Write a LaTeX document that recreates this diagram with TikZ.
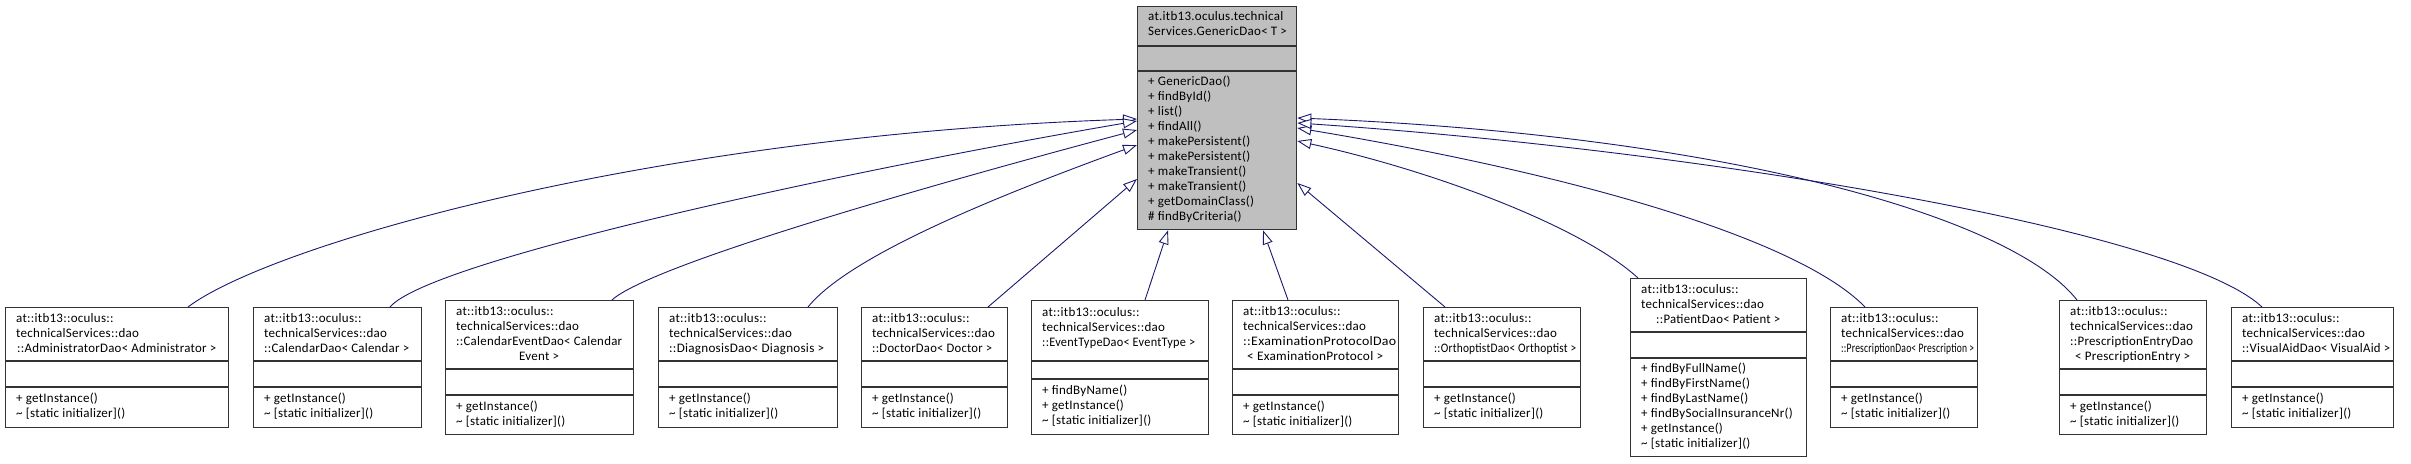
\documentclass[tikz,border=0pt]{standalone}
\usepackage{fontspec}
\setmainfont{Carlito}[LetterSpace=2]
\usetikzlibrary{arrows.meta,calc}
\definecolor{navyc}{RGB}{25,25,112}
\definecolor{gbox}{RGB}{191,191,191}
\newcommand{\tl}[1]{\begin{tabular}{@{}l@{}}#1\end{tabular}}
\newcommand{\cl}[2]{\makebox[#1][c]{#2}}
\newcommand{\sq}[2]{\resizebox{#1}{\height}{#2}}
\begin{document}
\begin{tikzpicture}[x=1pt,y=-1pt,
  cls/.style={draw=black!80, line width=1.3pt, fill=white, inner sep=0pt, anchor=north west},
  gcls/.style={cls, fill=gbox},
  sepline/.style={draw=black!80, line width=1.3pt},
  txt/.style={anchor=west, inner sep=0pt, font=\fontsize{13}{15}\selectfont},
  inh/.style={draw=navyc, line width=0.9pt, -{Triangle[fill=white, length=14pt, width=10pt]}}
]
\useasboundingbox (0,0) rectangle (2411,463);
\fill[white] (0,0) rectangle (2411,463);

% ---------- GenericDao ----------
\node[gcls, minimum width=159pt, minimum height=223pt] (G) at (1137,6) {};
\draw[sepline] (G.west |- 0,46) -- (G.east |- 0,46);
\draw[sepline] (G.west |- 0,71) -- (G.east |- 0,71);
\node[txt] (Gt) at (1148,25) {\tl{at.itb13.oculus.technical\\Services.GenericDao< T >}};
\node[txt] (Gm) at (1148,150) {\tl{+ GenericDao()\\+ findById()\\+ list()\\+ findAll()\\+ makePersistent()\\+ makePersistent()\\+ makeTransient()\\+ makeTransient()\\+ getDomainClass()\\\# findByCriteria()}};

% ---------- AdministratorDao ----------
\node[cls, minimum width=223pt, minimum height=120pt] (A) at (5,307) {};
\draw[sepline] (A.west |- 0,361) -- (A.east |- 0,361);
\draw[sepline] (A.west |- 0,387) -- (A.east |- 0,387);
\node[txt] (At) at (16,334) {\tl{at::itb13::oculus::\\technicalServices::dao\\\cl{201pt}{\sq{199pt}{::AdministratorDao< Administrator >}}}};
\node[txt] (Am) at (16,407) {\tl{+ getInstance()\\\textasciitilde{} [static initializer]()}};

% ---------- CalendarDao ----------
\node[cls, minimum width=168pt, minimum height=120pt] (B) at (253,307) {};
\draw[sepline] (B.west |- 0,361) -- (B.east |- 0,361);
\draw[sepline] (B.west |- 0,387) -- (B.east |- 0,387);
\node[txt] (Bt) at (264,334) {\tl{at::itb13::oculus::\\technicalServices::dao\\\sq{145pt}{::CalendarDao< Calendar >}}};
\node[txt] (Bm) at (264,407) {\tl{+ getInstance()\\\textasciitilde{} [static initializer]()}};

% ---------- CalendarEventDao ----------
\node[cls, minimum width=188pt, minimum height=134pt] (C) at (445,300) {};
\draw[sepline] (C.west |- 0,369) -- (C.east |- 0,369);
\draw[sepline] (C.west |- 0,395) -- (C.east |- 0,395);
\node[txt] (Ct) at (456,334.5) {\tl{at::itb13::oculus::\\technicalServices::dao\\\sq{166pt}{::CalendarEventDao< Calendar}\\\cl{166pt}{Event >}}};
\node[txt] (Cm) at (456,414.5) {\tl{+ getInstance()\\\textasciitilde{} [static initializer]()}};

% ---------- DiagnosisDao ----------
\node[cls, minimum width=179pt, minimum height=120pt] (D) at (658,307) {};
\draw[sepline] (D.west |- 0,361) -- (D.east |- 0,361);
\draw[sepline] (D.west |- 0,387) -- (D.east |- 0,387);
\node[txt] (Dt) at (669,334) {\tl{at::itb13::oculus::\\technicalServices::dao\\\sq{155pt}{::DiagnosisDao< Diagnosis >}}};
\node[txt] (Dm) at (669,407) {\tl{+ getInstance()\\\textasciitilde{} [static initializer]()}};

% ---------- DoctorDao ----------
\node[cls, minimum width=146pt, minimum height=120pt] (E) at (861,307) {};
\draw[sepline] (E.west |- 0,361) -- (E.east |- 0,361);
\draw[sepline] (E.west |- 0,387) -- (E.east |- 0,387);
\node[txt] (Et) at (872,334) {\tl{at::itb13::oculus::\\technicalServices::dao\\\sq{120pt}{::DoctorDao< Doctor >}}};
\node[txt] (Em) at (872,407) {\tl{+ getInstance()\\\textasciitilde{} [static initializer]()}};

% ---------- EventTypeDao ----------
\node[cls, minimum width=177pt, minimum height=134pt] (F) at (1031,300) {};
\draw[sepline] (F.west |- 0,361) -- (F.east |- 0,361);
\draw[sepline] (F.west |- 0,379) -- (F.east |- 0,379);
\node[txt] (Ft) at (1042,328) {\tl{at::itb13::oculus::\\technicalServices::dao\\\sq{153pt}{::EventTypeDao< EventType >}}};
\node[txt] (Fm) at (1042,406.5) {\tl{+ findByName()\\+ getInstance()\\\textasciitilde{} [static initializer]()}};

% ---------- ExaminationProtocolDao ----------
\node[cls, minimum width=166pt, minimum height=134pt] (H) at (1232,300) {};
\draw[sepline] (H.west |- 0,369) -- (H.east |- 0,369);
\draw[sepline] (H.west |- 0,395) -- (H.east |- 0,395);
\node[txt] (Ht) at (1243,334.5) {\tl{at::itb13::oculus::\\technicalServices::dao\\\sq{153pt}{::ExaminationProtocolDao}\\\cl{144pt}{\sq{136pt}{< ExaminationProtocol >}}}};
\node[txt] (Hm) at (1243,414.5) {\tl{+ getInstance()\\\textasciitilde{} [static initializer]()}};

% ---------- OrthoptistDao ----------
\node[cls, minimum width=157pt, minimum height=120pt] (I) at (1423,307) {};
\draw[sepline] (I.west |- 0,361) -- (I.east |- 0,361);
\draw[sepline] (I.west |- 0,387) -- (I.east |- 0,387);
\node[txt] (It) at (1434,334) {\tl{at::itb13::oculus::\\technicalServices::dao\\\sq{142pt}{::OrthoptistDao< Orthoptist >}}};
\node[txt] (Im) at (1434,407) {\tl{+ getInstance()\\\textasciitilde{} [static initializer]()}};

% ---------- PatientDao ----------
\node[cls, minimum width=176pt, minimum height=178pt] (J) at (1630,278) {};
\draw[sepline] (J.west |- 0,332) -- (J.east |- 0,332);
\draw[sepline] (J.west |- 0,358) -- (J.east |- 0,358);
\node[txt] (Jt) at (1641,305) {\tl{at::itb13::oculus::\\technicalServices::dao\\\cl{154pt}{\sq{124pt}{::PatientDao< Patient >}}}};
\node[txt] (Jm) at (1641,407) {\tl{+ findByFullName()\\+ findByFirstName()\\+ findByLastName()\\+ findBySocialInsuranceNr()\\+ getInstance()\\\textasciitilde{} [static initializer]()}};

% ---------- PrescriptionDao ----------
\node[cls, minimum width=147pt, minimum height=120pt] (K) at (1830,307) {};
\draw[sepline] (K.west |- 0,361) -- (K.east |- 0,361);
\draw[sepline] (K.west |- 0,387) -- (K.east |- 0,387);
\node[txt] (Kt) at (1841,334) {\tl{at::itb13::oculus::\\technicalServices::dao\\\sq{133pt}{::PrescriptionDao< Prescription >}}};
\node[txt] (Km) at (1841,407) {\tl{+ getInstance()\\\textasciitilde{} [static initializer]()}};

% ---------- PrescriptionEntryDao ----------
\node[cls, minimum width=147pt, minimum height=134pt] (M) at (2059,300) {};
\draw[sepline] (M.west |- 0,369) -- (M.east |- 0,369);
\draw[sepline] (M.west |- 0,395) -- (M.east |- 0,395);
\node[txt] (Mt) at (2070,334.5) {\tl{at::itb13::oculus::\\technicalServices::dao\\\sq{123pt}{::PrescriptionEntryDao}\\\cl{125pt}{\sq{115pt}{< PrescriptionEntry >}}}};
\node[txt] (Mm) at (2070,414.5) {\tl{+ getInstance()\\\textasciitilde{} [static initializer]()}};

% ---------- VisualAidDao ----------
\node[cls, minimum width=162pt, minimum height=120pt] (N) at (2231,307) {};
\draw[sepline] (N.west |- 0,361) -- (N.east |- 0,361);
\draw[sepline] (N.west |- 0,387) -- (N.east |- 0,387);
\node[txt] (Nt) at (2242,334) {\tl{at::itb13::oculus::\\technicalServices::dao\\\sq{148pt}{::VisualAidDao< VisualAid >}}};
\node[txt] (Nm) at (2242,407) {\tl{+ getInstance()\\\textasciitilde{} [static initializer]()}};

% ---------- inheritance connectors ----------
\draw[inh] (A.north -| 188,0) .. controls (270,245) and (650,135) .. (G.west |- 0,119);
\draw[inh] (B.north -| 390,0) .. controls (430,260) and (850,170) .. (G.west |- 0,121);
\draw[inh] (C.north -| 612,0) .. controls (650,265) and (930,185) .. (G.west |- 0,130);
\draw[inh] (D.north -| 808,0) .. controls (850,255) and (1000,195) .. (G.west |- 0,145);
\draw[inh] (E.north -| 988,0) -- (G.west |- 0,179);
\draw[inh] (F.north -| 1145,0) -- (G.south -| 1168,0);
\draw[inh] (H.north -| 1288,0) -- (G.south -| 1263,0);
\draw[inh] (I.north -| 1445,0) -- (G.east |- 0,183);
\draw[inh] (J.north -| 1638,0) .. controls (1580,225) and (1430,170) .. (G.east |- 0,141);
\draw[inh] (K.north -| 1865,0) .. controls (1800,240) and (1580,175) .. (G.east |- 0,128);
\draw[inh] (M.north -| 2077,0) .. controls (2010,215) and (1720,135) .. (G.east |- 0,118);
\draw[inh] (N.north -| 2262,0) .. controls (2180,230) and (1700,150) .. (G.east |- 0,123);
\end{tikzpicture}
\end{document}
